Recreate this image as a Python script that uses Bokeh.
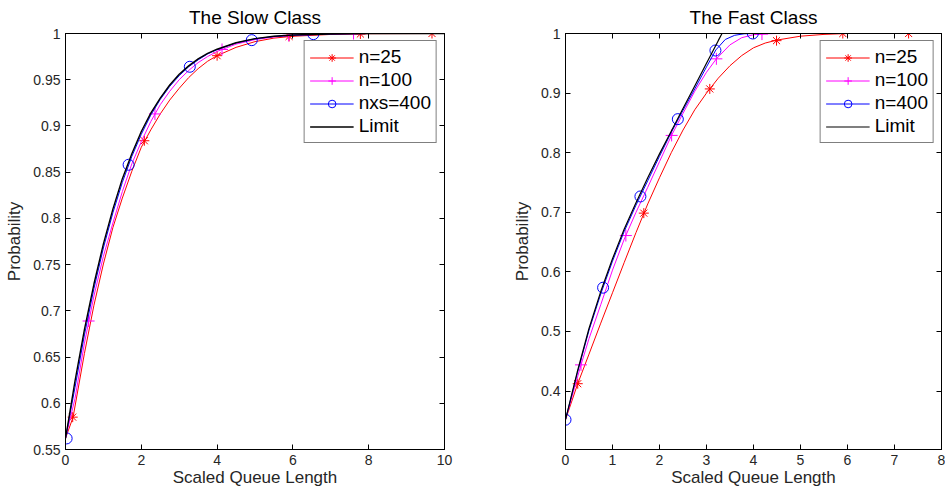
from bokeh.plotting import figure
from bokeh.models import (Range1d, LinearAxis, FixedTicker, Legend, LegendItem,
                          CustomLabelingPolicy)
from bokeh.layouts import row
from bokeh.embed import file_html
from bokeh.resources import INLINE

FONT = "Liberation Sans"

# ---------------- The Slow Class ----------------
slow_title = "The Slow Class"
slow_xticks = [0, 2, 4, 6, 8, 10]
slow_yticks = [0.55, 0.6, 0.65, 0.7, 0.75, 0.8, 0.85, 0.9, 0.95, 1.0]
slow_ylabels = ["0.55", "0.6", "0.65", "0.7", "0.75", "0.8", "0.85", "0.9", "0.95", "1"]
slow_labels = ["n=25", "n=100", "nxs=400", "Limit"]

slow_grid = [0, 0.25, 0.5, 0.75, 1, 1.25, 1.5, 1.75, 2, 2.25, 2.5, 2.75, 3, 3.25, 3.5,
             3.75, 4, 4.5, 5, 5.5, 6, 7, 8, 10]
slow_limit = [0.562, 0.624, 0.680, 0.729, 0.7725, 0.810, 0.843, 0.870, 0.894, 0.9139, 0.930,
              0.9443, 0.956, 0.965, 0.9725, 0.9786, 0.983, 0.990, 0.9944, 0.997, 0.9983,
              0.9995, 1.0, 1.0]
slow_n400 = [0.562, 0.617, 0.674, 0.724, 0.768, 0.806, 0.839, 0.867, 0.891, 0.9117, 0.9287,
             0.9428, 0.9544, 0.964, 0.9715, 0.9779, 0.9825, 0.9898, 0.9942, 0.9968, 0.9982,
             0.9995, 1.0, 1.0]
slow_n100 = [0.562, 0.605, 0.665, 0.716, 0.759, 0.795, 0.829, 0.859, 0.883, 0.9047, 0.923,
             0.9375, 0.950, 0.960, 0.9685, 0.9751, 0.9806, 0.9885, 0.9934, 0.9962, 0.998,
             0.9994, 1.0, 1.0]
slow_n25_x = [0, 0.2, 0.5, 0.75, 1, 1.25, 1.5, 1.75, 2, 2.25, 2.5, 2.75, 3, 3.25, 3.5, 3.75,
              4, 4.5, 5, 5.5, 6, 7, 8, 10]
slow_n25 = [0.562, 0.585, 0.654, 0.706, 0.7507, 0.790, 0.822, 0.851, 0.877, 0.8957, 0.913,
            0.928, 0.9407, 0.9523, 0.962, 0.970, 0.976, 0.985, 0.9912, 0.995, 0.997, 0.999,
            0.9998, 1.0]

slow_m25_x = [0.19, 2.08, 4.0, 5.9, 7.78, 9.67]
slow_m25_y = [0.585, 0.884, 0.976, 0.9968, 0.9995, 1.0]
slow_m100_x = [0.61, 2.36, 4.13, 5.89, 7.6]
slow_m100_y = [0.689, 0.913, 0.9827, 0.998, 1.0]
slow_m400_x = [0.03, 1.665, 3.28, 4.915, 6.54]
slow_m400_y = [0.562, 0.858, 0.964, 0.9928, 0.9993]

# ---------------- The Fast Class ----------------
fast_title = "The Fast Class"
fast_xticks = [0, 1, 2, 3, 4, 5, 6, 7, 8]
fast_yticks = [0.4, 0.5, 0.6, 0.7, 0.8, 0.9, 1.0]
fast_ylabels = ["0.4", "0.5", "0.6", "0.7", "0.8", "0.9", "1"]
fast_labels = ["n=25", "n=100", "n=400", "Limit"]

fast_limit_x = [0, 0.25, 0.5, 0.75, 1.0, 1.25, 1.5, 1.75, 2.0, 2.25, 2.5, 2.75, 3.0, 3.25, 3.33]
fast_limit = [0.352, 0.432, 0.505, 0.567, 0.622, 0.672, 0.716, 0.758, 0.798, 0.836, 0.874,
              0.912, 0.950, 0.988, 1.0]
fast_n400_x = [0, 0.25, 0.5, 0.75, 1.0, 1.25, 1.5, 1.75, 2.0, 2.25, 2.5, 2.75, 3.0, 3.2,
               3.4, 3.6, 3.8, 4.0, 8.0]
fast_n400 = [0.352, 0.430, 0.502, 0.563, 0.618, 0.668, 0.712, 0.753, 0.794, 0.834, 0.871,
             0.907, 0.944, 0.9725, 0.990, 0.997, 0.9995, 1.0, 1.0]
fast_n100_x = [0, 0.25, 0.33, 0.5, 0.75, 1.0, 1.25, 1.5, 1.75, 2.0, 2.25, 2.5, 2.75, 3.0,
               3.21, 3.5, 3.75, 4.0, 4.25, 4.5, 8.0]
fast_n100 = [0.352, 0.422, 0.444, 0.488, 0.545, 0.603, 0.655, 0.700, 0.742, 0.785, 0.828,
             0.866, 0.903, 0.935, 0.9575, 0.981, 0.993, 0.998, 0.9995, 1.0, 1.0]
fast_n25_x = [0, 0.26, 0.5, 0.75, 1.0, 1.25, 1.5, 1.75, 2.0, 2.25, 2.5, 2.75, 3.0, 3.25,
              3.5, 3.75, 4.0, 4.25, 4.5, 5.0, 5.5, 6.0, 8.0]
fast_n25 = [0.352, 0.4124, 0.462, 0.514, 0.565, 0.616, 0.666, 0.714, 0.758, 0.800, 0.838,
            0.872, 0.900, 0.925, 0.946, 0.963, 0.976, 0.984, 0.989, 0.9955, 0.9985, 1.0, 1.0]

fast_m25_x = [0.26, 1.666, 3.07, 4.49, 5.90, 7.30]
fast_m25_y = [0.4124, 0.6986, 0.907, 0.988, 1.0, 1.0]
fast_m100_x = [0.33, 1.284, 2.258, 3.21, 4.18]
fast_m100_y = [0.444, 0.661, 0.829, 0.9575, 0.999]
fast_m400_x = [0, 0.8, 1.594, 2.39, 3.19, 3.985]
fast_m400_y = [0.352, 0.5735, 0.7266, 0.8563, 0.9715, 1.0]

RED, MAG, BLUE, BLACK = "#ff0000", "#ff00ff", "#0000ff", "#000000"
TXT = "#262626"


def style_axis(ax, ticks, labels=None, show_labels=True):
    ax.ticker = FixedTicker(ticks=ticks)
    ax.major_tick_in = 5
    ax.major_tick_out = 0
    ax.minor_tick_line_color = None
    ax.axis_line_color = "black"
    ax.axis_line_width = 1
    ax.major_tick_line_color = "black"
    ax.major_tick_line_width = 1
    ax.major_label_text_font = FONT
    ax.major_label_text_color = TXT
    if labels is not None:
        ax.major_label_overrides = {t: l for t, l in zip(ticks, labels)}
    if show_labels:
        ax.major_label_text_font_size = "14px"
        ax.major_label_standoff = 5
    else:
        # tick marks only: hide every label through a labeling policy
        ax.major_label_text_font_size = "1px"
        ax.major_label_standoff = 0
        ax.major_label_policy = CustomLabelingPolicy(
            code="for (const i of indices) { indices.unset(i) } return indices")


def make_panel(title, xr, yr, xticks, yticks, ylabels, series, labels,
               width, border_left, border_right):
    p = figure(width=width, height=490, x_range=Range1d(*xr), y_range=Range1d(*yr),
               output_backend="svg", toolbar_location=None,
               min_border_left=border_left, min_border_right=border_right,
               min_border_top=33, min_border_bottom=41)
    p.background_fill_color = "white"
    p.border_fill_color = "white"
    p.outline_line_color = "black"
    p.outline_line_width = 1
    p.xgrid.visible = False
    p.ygrid.visible = False

    p.title.text = title
    p.title.align = "center"
    p.title.text_font = FONT
    p.title.text_font_size = "19px"
    p.title.text_font_style = "normal"
    p.title.text_color = "black"
    p.title.standoff = 4

    style_axis(p.xaxis[0], xticks)
    style_axis(p.yaxis[0], yticks, ylabels)
    p.xaxis.axis_label = "Scaled Queue Length"
    p.yaxis.axis_label = "Probability"
    for ax in (p.xaxis[0], p.yaxis[0]):
        ax.axis_label_text_font = FONT
        ax.axis_label_text_font_size = "17px"
        ax.axis_label_text_font_style = "normal"
        ax.axis_label_text_color = TXT
    p.xaxis[0].axis_label_standoff = 0
    p.yaxis[0].axis_label_standoff = 6

    top = LinearAxis()
    style_axis(top, xticks, show_labels=False)
    p.add_layout(top, "above")
    right = LinearAxis()
    style_axis(right, yticks, show_labels=False)
    p.add_layout(right, "right")

    items = []
    for (lx, ly, mx, my, color, marker, msize, lw), lab in zip(series, labels):
        rends = [p.line(lx, ly, line_color=color, line_width=lw)]
        if marker is not None:
            if marker == "circle":
                rends.append(p.scatter(mx, my, marker="circle", size=msize, fill_color=None,
                                       line_color=color, line_width=1))
            else:
                rends.append(p.scatter(mx, my, marker=marker, size=msize,
                                       line_color=color, line_width=1))
        items.append(LegendItem(label=lab, renderers=rends))

    legend = Legend(items=items, location="top_right")
    legend.margin = 7
    legend.padding = 5
    legend.spacing = 1
    legend.label_height = 19
    legend.glyph_height = 19
    legend.glyph_width = 44
    legend.label_standoff = 5
    legend.label_text_font = FONT
    legend.label_text_font_size = "19px"
    legend.label_text_color = "black"
    legend.border_line_color = "black"
    legend.border_line_width = 1
    legend.background_fill_color = "white"
    legend.background_fill_alpha = 1
    p.add_layout(legend)
    return p


slow_series = [
    (slow_n25_x, slow_n25, slow_m25_x, slow_m25_y, RED, "asterisk", 10, 1),
    (slow_grid, slow_n100, slow_m100_x, slow_m100_y, MAG, "cross", 12, 1),
    (slow_grid, slow_n400, slow_m400_x, slow_m400_y, BLUE, "circle", 11, 1),
    (slow_grid, slow_limit, None, None, BLACK, None, 0, 1.4),
]
fast_series = [
    (fast_n25_x, fast_n25, fast_m25_x, fast_m25_y, RED, "asterisk", 10, 1),
    (fast_n100_x, fast_n100, fast_m100_x, fast_m100_y, MAG, "cross", 12, 1),
    (fast_n400_x, fast_n400, fast_m400_x, fast_m400_y, BLUE, "circle", 11, 1),
    (fast_limit_x, fast_limit, None, None, BLACK, None, 0, 1.2),
]

p1 = make_panel(slow_title, (0, 10), (0.55, 1.0), slow_xticks, slow_yticks, slow_ylabels,
                slow_series, slow_labels, width=472, border_left=65, border_right=28)
p2 = make_panel(fast_title, (0, 8), (0.302, 1.0), fast_xticks, fast_yticks, fast_ylabels,
                fast_series, fast_labels, width=473, border_left=93, border_right=2)

layout = row(p1, p2)
open("out.html", "w").write(file_html(layout, INLINE))
